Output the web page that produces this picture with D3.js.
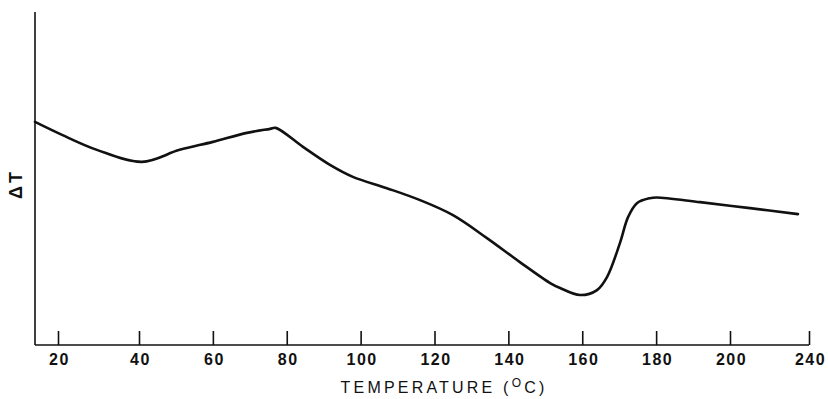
<!DOCTYPE html>
<html>
<head>
<meta charset="utf-8">
<script src="https://cdn.jsdelivr.net/npm/d3@7"></script>
<style>
  body { margin: 0; background: #fff; }
  svg { display: block; }
</style>
</head>
<body>
<svg width="828" height="399"></svg>
<script>
// temperature (°C)
var temps = [14.3, 21, 29.6, 40.8, 51, 60, 69.2, 75.5, 77, 84.4, 91.7, 97.9, 107.1, 116.1, 125, 134.2,
             143.1, 151.3, 154, 159.4, 164, 166.7, 170.2, 172.4, 174.8, 178.3, 180.2, 191.9, 210.1, 234.4];
// ΔT, arbitrary units (0 = x axis, 100 = top of y axis)
var deltaT = [67, 63.1, 58.6, 55, 58.6, 61, 63.7, 64.9, 65.2, 59.5, 54.1, 50.5, 47.1, 43.5, 39, 32.1,
              24.9, 18.6, 17.1, 15, 16.5, 20.4, 30.6, 38.4, 42.6, 44.1, 44.3, 42.9, 41.1, 39.3];
var tickVals = [20, 40, 60, 80, 100, 120, 140, 160, 180, 200, 240];

var svg = d3.select("svg");

// the printed axis is not evenly spaced (last tick is 240), so piecewise scale
var x = d3.scaleLinear()
    .domain([14.3, 20, 40, 200, 240])
    .range([35, 58, 139, 730, 809]);

var y = d3.scaleLinear()
    .domain([0, 100])
    .range([345, 12]);

var data = temps.map(function(t, i) { return { t: t, v: deltaT[i] }; });

// axes
svg.append("line")
    .attr("x1", x(14.3)).attr("x2", x(14.3))
    .attr("y1", y(0)).attr("y2", y(100))
    .attr("stroke", "#111").attr("stroke-width", 1.6);

var xAxis = d3.axisBottom(x)
    .tickValues(tickVals)
    .tickSizeInner(-14)
    .tickSizeOuter(0)
    .tickPadding(0)
    .tickFormat(d3.format("d"));

var gx = svg.append("g")
    .attr("transform", "translate(0," + y(0) + ")")
    .call(xAxis);

gx.select(".domain").remove();
gx.append("line")
    .attr("x1", x(14.3)).attr("x2", x(240))
    .attr("stroke", "#111").attr("stroke-width", 1.6);
gx.selectAll(".tick line").attr("stroke", "#111").attr("stroke-width", 1.6);
gx.selectAll(".tick text")
    .attr("y", 20)
    .attr("dy", 0)
    .attr("dx", 1)
    .attr("fill", "#111")
    .style("font-family", "'Liberation Sans', Arial, sans-serif")
    .style("font-size", "16px")
    .style("font-weight", "bold")
    .style("letter-spacing", "1.5px");

// curve
var line = d3.line()
    .x(function(d) { return x(d.t); })
    .y(function(d) { return y(d.v); })
    .curve(d3.curveCatmullRom.alpha(0.5));

svg.append("path")
    .datum(data)
    .attr("d", line)
    .attr("fill", "none")
    .attr("stroke", "#111")
    .attr("stroke-width", 2.6)
    .attr("stroke-linejoin", "round")
    .attr("stroke-linecap", "round");

// axis titles
var title = svg.append("text")
    .attr("x", 444)
    .attr("y", 393)
    .attr("text-anchor", "middle")
    .attr("fill", "#111")
    .style("font-family", "'Liberation Sans', Arial, sans-serif")
    .style("font-size", "16px")
    .style("letter-spacing", "3.2px");
title.append("tspan").text("TEMPERATURE (");
title.append("tspan").attr("dy", -6).style("font-size", "12px").text("O");
title.append("tspan").attr("dy", 6).text("C)");

svg.append("text")
    .attr("transform", "translate(22,184) rotate(-90)")
    .attr("text-anchor", "middle")
    .attr("fill", "#111")
    .style("font-family", "'Liberation Sans', Arial, sans-serif")
    .style("font-size", "18px")
    .style("font-weight", "bold")
    .style("letter-spacing", "3px")
    .text("ΔT");
</script>
</body>
</html>
